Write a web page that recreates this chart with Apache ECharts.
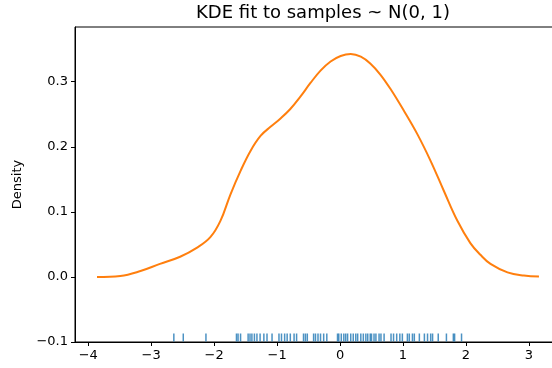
<!DOCTYPE html>
<html>
<head>
<meta charset="utf-8">
<script src="https://cdn.jsdelivr.net/npm/echarts@6/dist/echarts.min.js"></script>
<style>
html,body{margin:0;padding:0;background:#fff;overflow:hidden;width:552px;height:368px;}
#chart{width:561px;height:368px;}
</style>
</head>
<body>
<div id="chart"></div>
<script>
// KDE curve: x positions and density values
var kdeX = [-3.86, -3.49, -3.17, -2.86, -2.54, -2.27, -2.06, -1.90, -1.74, -1.58, -1.42, -1.26, -1.10, -0.95, -0.79, -0.63, -0.47, -0.31, -0.15, 0.01, 0.17, 0.33, 0.48, 0.64, 0.80, 1.01, 1.23, 1.44, 1.65, 1.86, 2.07, 2.23, 2.39, 2.66, 2.92, 3.16];
var kdeY = [0.000, 0.0015, 0.009, 0.020, 0.031, 0.045, 0.061, 0.086, 0.127, 0.163, 0.194, 0.217, 0.231, 0.243, 0.258, 0.277, 0.298, 0.317, 0.331, 0.3395, 0.3425, 0.3385, 0.328, 0.311, 0.289, 0.256, 0.219, 0.178, 0.132, 0.087, 0.052, 0.034, 0.020, 0.007, 0.002, 0.0005];
// Rug: sample positions
var samples = [-2.64, -2.49, -2.13, -1.645, -1.62, -1.58, -1.46, -1.43, -1.40, -1.36, -1.32, -1.27, -1.21, -1.16, -1.08, -0.97, -0.93, -0.88, -0.84, -0.79, -0.73, -0.69, -0.58, -0.55, -0.52, -0.42, -0.39, -0.35, -0.31, -0.26, -0.21, -0.04, -0.02, 0.02, 0.06, 0.09, 0.12, 0.17, 0.21, 0.25, 0.28, 0.33, 0.37, 0.41, 0.44, 0.48, 0.50, 0.54, 0.57, 0.62, 0.65, 0.70, 0.81, 0.85, 0.90, 0.95, 0.99, 1.07, 1.10, 1.15, 1.18, 1.26, 1.34, 1.39, 1.44, 1.47, 1.56, 1.69, 1.80, 1.82, 1.93];
var xTicks = [-4, -3, -2, -1, 0, 1, 2, 3];
var yTicks = [-0.1, 0.0, 0.1, 0.2, 0.3];
var titleText = 'KDE fit to samples ~ N(0, 1)';
var yName = 'Density';

var xMin = -4.21, xMax = 3.51, yMin = -0.1, yMax = 0.384;

function fmtX(v){ var s = String(Math.round(v)); return s.replace('-', '\u2212'); }
function fmtY(v){ var s = v.toFixed(1); return s.replace('-', '\u2212'); }

var chart = echarts.init(document.getElementById('chart'), null, {renderer:'canvas'});
var font = 'DejaVu Sans';
chart.setOption({
  animation: false,
  backgroundColor: '#fff',
  graphic: [{
    type: 'text', x: 323, y: 4,
    style: { text: titleText, font: '18px "DejaVu Sans"', fill: '#000', textAlign: 'center' }
  }],
  grid: { left: 75, top: 27, bottom: 26, right: 0, show: true, borderColor: '#000', borderWidth: 1, backgroundColor: 'transparent' },
  xAxis: {
    type: 'value', min: xMin, max: xMax,
    axisLine: { show: true, onZero: false, lineStyle: { color: '#000', width: 1 } },
    axisTick: { show: true, inside: false, length: 4, lineStyle: { color: '#000' }, customValues: xTicks },
    axisLabel: { show: true, margin: 7, color: '#000', fontFamily: font, fontSize: 13, customValues: xTicks, formatter: fmtX },
    splitLine: { show: false }
  },
  yAxis: {
    type: 'value', min: yMin, max: yMax,
    name: yName, nameLocation: 'middle', nameGap: 51,
    nameTextStyle: { color: '#000', fontFamily: font, fontSize: 13 },
    axisLine: { show: true, onZero: false, lineStyle: { color: '#000', width: 1 } },
    axisTick: { show: true, inside: false, length: 4, lineStyle: { color: '#000' }, customValues: yTicks },
    axisLabel: { show: true, margin: 7, color: '#000', fontFamily: font, fontSize: 13, customValues: yTicks, formatter: fmtY },
    splitLine: { show: false }
  },
  series: [
    {
      type: 'line',
      data: kdeX.map(function(x, i){ return [x, kdeY[i]]; }),
      smooth: 0.4,
      showSymbol: false,
      lineStyle: { color: '#ff7f0e', width: 2 },
      itemStyle: { color: '#ff7f0e' },
      z: 3
    },
    {
      type: 'scatter',
      data: samples.map(function(s){ return [s, yMin]; }),
      symbol: 'rect',
      symbolSize: [1.5, 8],
      symbolOffset: [0, -4.5],
      itemStyle: { color: '#1f77b4', opacity: 0.8 },
      z: 2
    }
  ]
});
</script>
</body>
</html>
